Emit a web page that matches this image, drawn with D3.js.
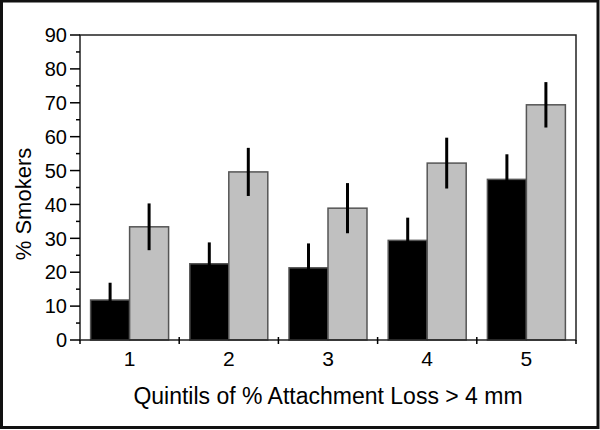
<!DOCTYPE html>
<html>
<head>
<meta charset="utf-8">
<script src="https://cdn.jsdelivr.net/npm/d3@7"></script>
<style>
  html, body { margin: 0; padding: 0; background: #fff; }
  svg { display: block; }
  text { font-family: "Liberation Sans", Arial, sans-serif; fill: #000; }
</style>
</head>
<body>
<svg id="chart" width="600" height="430"></svg>
<script>
// ---- data ----
const categories = ["1", "2", "3", "4", "5"];
const seriesNames = ["black", "gray"];
const blackValues = [11.8, 22.5, 21.3, 29.4, 47.4];
const blackErrors = [5.1, 6.3, 7.2, 6.7, 7.4];
const grayValues = [33.4, 49.6, 38.9, 52.2, 69.4];
const grayErrors = [6.9, 7.1, 7.4, 7.5, 6.7];
const yTicks = [0, 10, 20, 30, 40, 50, 60, 70, 80, 90];
const yMinorTicks = [5, 15, 25, 35, 45, 55, 65, 75, 85];
const xTitle = "Quintils of % Attachment Loss > 4 mm";
const yTitle = "% Smokers";

// ---- layout ----
const svg = d3.select("#chart");
const plotLeft = 80, plotRight = 576, plotTop = 35, plotBottom = 340;

const x = d3.scaleBand().domain(categories).range([plotLeft, plotRight]).paddingInner(0).paddingOuter(0);
const xSub = d3.scaleBand().domain(seriesNames).range([0, x.bandwidth()]).paddingInner(0).paddingOuter(0.272);
const y = d3.scaleLinear().domain([0, 90]).range([plotBottom, plotTop]);

const fills = { black: "#000000", gray: "#c0c0c0" };

// outer frame
svg.append("rect").attr("x", 1.5).attr("y", 1).attr("width", 596.5).attr("height", 426.5)
  .attr("fill", "none").attr("stroke", "#111").attr("stroke-width", 3);

// data rows
const rows = categories.map((c, i) => ({
  cat: c,
  items: [
    { s: "black", v: blackValues[i], e: blackErrors[i] },
    { s: "gray", v: grayValues[i], e: grayErrors[i] }
  ]
}));

const groups = svg.append("g").selectAll("g").data(rows).join("g")
  .attr("transform", d => `translate(${x(d.cat)},0)`);

groups.selectAll("rect").data(d => d.items).join("rect")
  .attr("x", d => xSub(d.s))
  .attr("width", xSub.bandwidth())
  .attr("y", d => y(d.v))
  .attr("height", d => y(0) - y(d.v))
  .attr("fill", d => fills[d.s])
  .attr("stroke", "#555")
  .attr("stroke-width", 1.5);

groups.selectAll("line.err").data(d => d.items).join("line")
  .attr("class", "err")
  .attr("x1", d => xSub(d.s) + xSub.bandwidth() / 2)
  .attr("x2", d => xSub(d.s) + xSub.bandwidth() / 2)
  .attr("y1", d => y(d.v - d.e))
  .attr("y2", d => y(d.v + d.e))
  .attr("stroke", "#000")
  .attr("stroke-width", 3);

// plot frame
svg.append("rect").attr("x", plotLeft).attr("y", plotTop).attr("width", plotRight - plotLeft).attr("height", plotBottom - plotTop)
  .attr("fill", "none").attr("stroke", "#222").attr("stroke-width", 1.5);

// y axis ticks
const yAxis = svg.append("g");
yAxis.selectAll("line.major").data(yTicks).join("line").attr("class", "major")
  .attr("x1", plotLeft - 10).attr("x2", plotLeft).attr("y1", d => y(d)).attr("y2", d => y(d))
  .attr("stroke", "#000").attr("stroke-width", 1.5);
yAxis.selectAll("line.minor").data(yMinorTicks).join("line").attr("class", "minor")
  .attr("x1", plotLeft - 4).attr("x2", plotLeft).attr("y1", d => y(d)).attr("y2", d => y(d))
  .attr("stroke", "#000").attr("stroke-width", 1.5);
yAxis.selectAll("text").data(yTicks).join("text")
  .attr("x", 67).attr("y", d => y(d)).attr("dy", "0.36em")
  .attr("text-anchor", "end").attr("font-size", 20).text(d => d);

// x axis ticks at category boundaries
const boundaries = categories.map(c => x(c)).concat([plotRight]);
svg.append("g").selectAll("line").data(boundaries).join("line")
  .attr("x1", d => d).attr("x2", d => d)
  .attr("y1", (d, i) => (i === 0 || i === boundaries.length - 1) ? plotBottom : plotBottom - 3)
  .attr("y2", plotBottom + 4)
  .attr("stroke", "#000").attr("stroke-width", 1.5);

svg.append("g").selectAll("text").data(categories).join("text")
  .attr("x", d => x(d) + x.bandwidth() / 2).attr("y", 366)
  .attr("text-anchor", "middle").attr("font-size", 21).text(d => d);

// titles
svg.append("text").attr("x", (plotLeft + plotRight) / 2).attr("y", 404)
  .attr("text-anchor", "middle").attr("font-size", 23).text(xTitle);
svg.append("text").attr("transform", "translate(31,204) rotate(-90)")
  .attr("text-anchor", "middle").attr("font-size", 22).text(yTitle);
</script>
</body>
</html>
